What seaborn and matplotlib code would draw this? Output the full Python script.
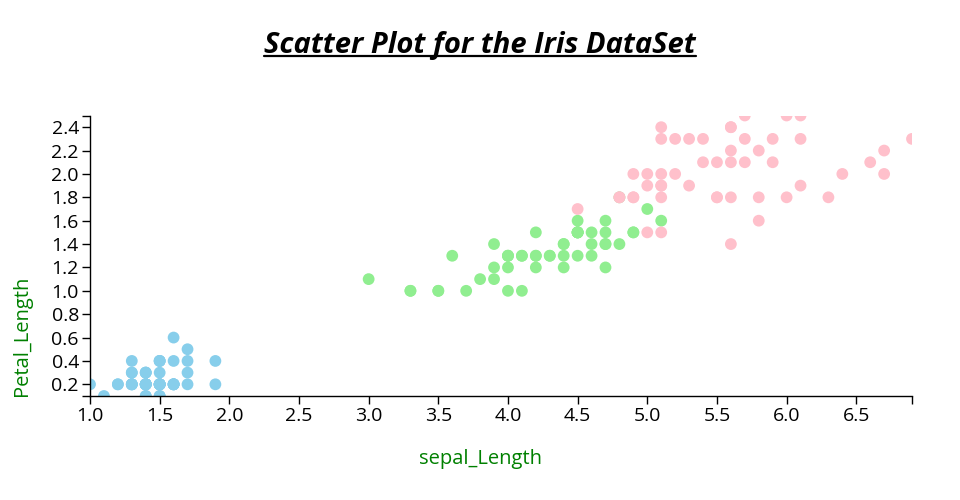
import numpy as np
import pandas as pd
import matplotlib
matplotlib.use("Agg")
import matplotlib.pyplot as plt
from matplotlib.lines import Line2D
import seaborn as sns

# Iris petal measurements per species
setosa_length = [1.4, 1.4, 1.3, 1.5, 1.4, 1.7, 1.4, 1.5, 1.4, 1.5, 1.5, 1.6, 1.4, 1.1, 1.2, 1.5, 1.3,
                 1.4, 1.7, 1.5, 1.7, 1.5, 1.0, 1.7, 1.9, 1.6, 1.6, 1.5, 1.4, 1.6, 1.6, 1.5, 1.5, 1.4,
                 1.5, 1.2, 1.3, 1.4, 1.3, 1.5, 1.3, 1.3, 1.3, 1.6, 1.9, 1.4, 1.6, 1.4, 1.5, 1.4]
setosa_width = [0.2, 0.2, 0.2, 0.2, 0.2, 0.4, 0.3, 0.2, 0.2, 0.1, 0.2, 0.2, 0.1, 0.1, 0.2, 0.4, 0.4,
                0.3, 0.3, 0.3, 0.2, 0.4, 0.2, 0.5, 0.2, 0.2, 0.4, 0.2, 0.2, 0.2, 0.2, 0.4, 0.1, 0.2,
                0.2, 0.2, 0.2, 0.1, 0.2, 0.2, 0.3, 0.3, 0.2, 0.6, 0.4, 0.3, 0.2, 0.2, 0.2, 0.2]
versicolor_length = [4.7, 4.5, 4.9, 4.0, 4.6, 4.5, 4.7, 3.3, 4.6, 3.9, 3.5, 4.2, 4.0, 4.7, 3.6, 4.4,
                     4.5, 4.1, 4.5, 3.9, 4.8, 4.0, 4.9, 4.7, 4.3, 4.4, 4.8, 5.0, 4.5, 3.5, 3.8, 3.7,
                     3.9, 5.1, 4.5, 4.5, 4.7, 4.4, 4.1, 4.0, 4.4, 4.6, 4.0, 3.3, 4.2, 4.2, 4.2, 4.3,
                     3.0, 4.1]
versicolor_width = [1.4, 1.5, 1.5, 1.3, 1.5, 1.3, 1.6, 1.0, 1.3, 1.4, 1.0, 1.5, 1.0, 1.4, 1.3, 1.4,
                    1.5, 1.0, 1.5, 1.1, 1.8, 1.3, 1.5, 1.2, 1.3, 1.4, 1.4, 1.7, 1.5, 1.0, 1.1, 1.0,
                    1.2, 1.6, 1.5, 1.6, 1.5, 1.3, 1.3, 1.3, 1.2, 1.4, 1.2, 1.0, 1.3, 1.2, 1.3, 1.3,
                    1.1, 1.3]
virginica_length = [6.0, 5.1, 5.9, 5.6, 5.8, 6.6, 4.5, 6.3, 5.8, 6.1, 5.1, 5.3, 5.5, 5.0, 5.1, 5.3,
                    5.5, 6.7, 6.9, 5.0, 5.7, 4.9, 6.7, 4.9, 5.7, 6.0, 4.8, 4.9, 5.6, 5.8, 6.1, 6.4,
                    5.6, 5.1, 5.6, 6.1, 5.6, 5.5, 4.8, 5.4, 5.6, 5.1, 5.1, 5.9, 5.7, 5.2, 5.0, 5.2,
                    5.4, 5.1]
virginica_width = [2.5, 1.9, 2.1, 1.8, 2.2, 2.1, 1.7, 1.8, 1.8, 2.5, 2.0, 1.9, 2.1, 2.0, 2.4, 2.3,
                   1.8, 2.2, 2.3, 1.5, 2.3, 2.0, 2.0, 1.8, 2.1, 1.8, 1.8, 1.8, 2.1, 1.6, 1.9, 2.0,
                   2.2, 1.5, 1.4, 2.3, 2.4, 1.8, 1.8, 2.1, 2.4, 2.3, 1.9, 2.3, 2.5, 2.3, 1.9, 2.0,
                   2.3, 1.8]
species_names = ["setosa", "versicolor", "virginica"]
species_colors = {"setosa": "#87ceeb", "versicolor": "#90ee90", "virginica": "#ffc0cb"}

x_ticks = [1.0, 1.5, 2.0, 2.5, 3.0, 3.5, 4.0, 4.5, 5.0, 5.5, 6.0, 6.5]
y_ticks = [0.2, 0.4, 0.6, 0.8, 1.0, 1.2, 1.4, 1.6, 1.8, 2.0, 2.2, 2.4]

df = pd.concat([
    pd.DataFrame({"length": setosa_length, "width": setosa_width, "species": "setosa"}),
    pd.DataFrame({"length": versicolor_length, "width": versicolor_width, "species": "versicolor"}),
    pd.DataFrame({"length": virginica_length, "width": virginica_width, "species": "virginica"}),
], ignore_index=True)

sns.set_theme(style="white")
plt.rcParams["font.family"] = ["Open Sans", "DejaVu Sans"]

fig = plt.figure(figsize=(9.6, 5.0), dpi=100)
ax = fig.add_axes([90 / 960, 1 - 396 / 500, 822 / 960, 280.5 / 500])

sns.scatterplot(data=df, x="length", y="width", hue="species", hue_order=species_names,
                palette=species_colors, s=72, linewidth=0, alpha=1, legend=False, ax=ax)

xmin, xmax = df["length"].min(), df["length"].max()
ymin, ymax = df["width"].min(), df["width"].max()
ax.set_xlim(xmin, xmax)
ax.set_ylim(ymin, ymax)

# d3-style axes: labelled ticks plus unlabelled outer ticks at the domain ends
ax.set_xticks(x_ticks + [xmax])
ax.set_xticklabels([f"{v:.1f}" for v in x_ticks] + [""])
ax.set_yticks([ymin] + y_ticks + [ymax])
ax.set_yticklabels([""] + [f"{v:.1f}" for v in y_ticks] + [""])
ax.tick_params(axis="both", direction="out", length=6, width=1, color="black",
               labelsize=14, labelcolor="black", pad=2, bottom=True, left=True)

for side in ["top", "right"]:
    ax.spines[side].set_visible(False)
for side in ["left", "bottom"]:
    ax.spines[side].set_color("black")
    ax.spines[side].set_linewidth(1)
ax.set_xlabel("")
ax.set_ylabel("")

fig.text(480 / 960, 1 - 459 / 500, "sepal_Length", color="green", fontsize=14.5,
         ha="center", va="center")
fig.text(22 / 960, 1 - 336 / 500, "Petal_Length", color="green", fontsize=14.5,
         ha="center", va="center", rotation=90)

title = fig.text(480 / 960, 1 - 45 / 500, "Scatter Plot for the Iris DataSet", fontsize=21,
                 fontweight="bold", fontstyle="italic", ha="center", va="center", color="black")

# underline the title
fig.canvas.draw()
bb = title.get_window_extent()
uy = (bb.y0 + 4) / fig.bbox.height
fig.add_artist(Line2D([bb.x0 / fig.bbox.width, bb.x1 / fig.bbox.width], [uy, uy],
                      color="black", linewidth=1.6, transform=fig.transFigure))

fig.savefig("out.png", dpi=100)
